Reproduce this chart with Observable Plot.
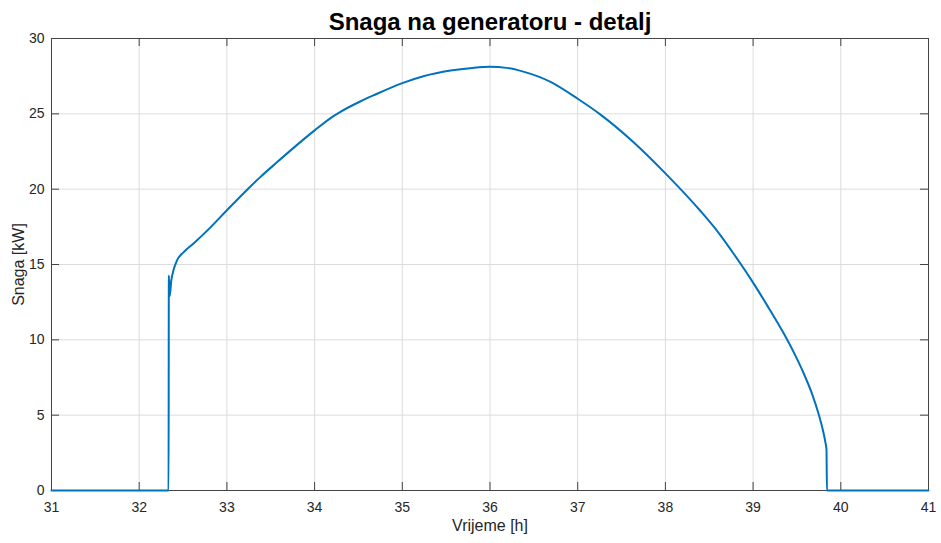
<!DOCTYPE html>
<html>
<head>
<meta charset="utf-8">
<script src="https://cdn.jsdelivr.net/npm/d3@7"></script>
<script src="https://cdn.jsdelivr.net/npm/@observablehq/plot@0.6"></script>
<style>
  html, body { margin: 0; padding: 0; background: #fff; }
  #chart { width: 941px; height: 543px; }
</style>
</head>
<body>
<div id="chart"></div>
<script>
const titleText = "Snaga na generatoru - detalj";
const xLabel = "Vrijeme [h]";
const yLabel = "Snaga [kW]";
const xTicks = [31, 32, 33, 34, 35, 36, 37, 38, 39, 40, 41];
const yTicks = [0, 5, 10, 15, 20, 25, 30];
const hours = [31, 32.335, 32.338, 32.348, 32.365, 32.39, 32.43, 32.505, 32.62, 32.81, 33.0, 33.228, 33.38, 33.57, 33.76, 34.0, 34.215, 34.29, 34.52, 34.67, 35.0, 35.24, 35.55, 35.8, 36.0, 36.19, 36.38, 36.69, 37.0, 37.26, 37.64, 38.0, 38.4, 38.6, 38.78, 39.016, 39.157, 39.347, 39.461, 39.575, 39.67, 39.746, 39.796, 39.826, 39.837, 39.842, 41];
const power = [0, 0, 14.27, 12.9, 13.9, 14.6, 15.26, 15.81, 16.4, 17.45, 18.6, 19.95, 20.8, 21.78, 22.74, 23.9, 24.85, 25.12, 25.82, 26.22, 27.04, 27.5, 27.88, 28.05, 28.12, 28.05, 27.8, 27.12, 26.0, 24.95, 23.1, 21.05, 18.55, 17.15, 15.7, 13.65, 12.32, 10.45, 9.2, 7.8, 6.45, 5.1, 4.0, 3.15, 2.7, 0, 0];

const data = hours.map((h, i) => ({h, p: power[i]}));

const W = 941, H = 543;
const mL = 51, mR = 13, mT = 38, mB = 53;
const innerW = W - mL - mR, innerH = H - mT - mB;
const tickLen = 8;
const axisColor = "#262626";
const boxColor = "#444";

const chart = Plot.plot({
  width: W,
  height: H,
  marginLeft: mL, marginRight: mR, marginTop: mT, marginBottom: mB,
  style: {fontFamily: "'Liberation Sans', Arial, sans-serif", fontSize: "14px", color: axisColor, background: "#fff"},
  x: {domain: [31, 41]},
  y: {domain: [0, 30]},
  marks: [
    Plot.gridX(xTicks, {stroke: "#dcdcdc", strokeOpacity: 1}),
    Plot.gridY(yTicks, {stroke: "#dcdcdc", strokeOpacity: 1}),
    Plot.frame({stroke: boxColor, strokeWidth: 1}),
    Plot.tickX(xTicks, {x: d => d, insetTop: innerH - tickLen, stroke: boxColor}),
    Plot.tickX(xTicks, {x: d => d, insetBottom: innerH - tickLen, stroke: boxColor}),
    Plot.tickY(yTicks, {y: d => d, insetRight: innerW - tickLen, stroke: boxColor}),
    Plot.tickY(yTicks, {y: d => d, insetLeft: innerW - tickLen, stroke: boxColor}),
    Plot.axisX({ticks: xTicks, tickSize: 0, tickPadding: 12, label: null}),
    Plot.axisY({ticks: yTicks, tickSize: 0, tickPadding: 7, label: null}),
    Plot.line(data, {x: "h", y: "p", stroke: "#0072BD", strokeWidth: 2, curve: "monotone-x", strokeLinejoin: "round"}),
    Plot.text([xLabel], {frameAnchor: "bottom", dy: 35, lineAnchor: "middle", textAnchor: "middle", fontSize: 16}),
    Plot.text([yLabel], {frameAnchor: "left", dx: -33, rotate: -90, lineAnchor: "middle", textAnchor: "middle", fontSize: 16}),
    Plot.text([titleText], {frameAnchor: "top", dy: -16.5, lineAnchor: "middle", textAnchor: "middle", fontSize: 24, fontWeight: "bold", fill: "#000"})
  ]
});
document.getElementById("chart").appendChild(chart);
</script>
</body>
</html>
